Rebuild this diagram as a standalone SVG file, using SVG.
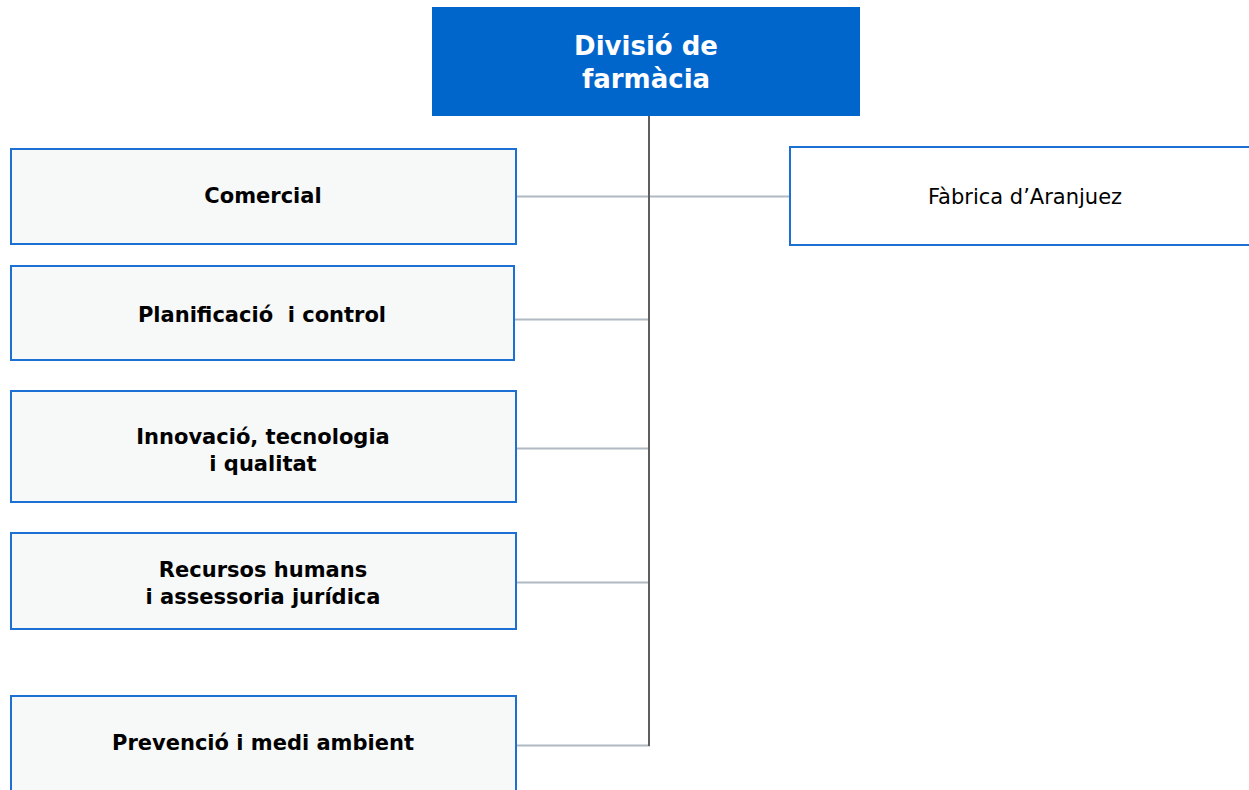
<svg xmlns="http://www.w3.org/2000/svg" width="1249" height="790" viewBox="0 0 1249 790">
<style>
.box{fill:#F7F8F8;stroke:#1C6FD3;stroke-width:2}
.wbox{fill:#FFFFFF;stroke:#1C6FD3;stroke-width:2}
.t{font-family:"DejaVu Sans",Verdana,sans-serif;font-size:21px;font-weight:bold;fill:#000;text-anchor:middle}
.tn{font-family:"DejaVu Sans",Verdana,sans-serif;font-size:21px;fill:#000;text-anchor:middle}
.title{font-family:"DejaVu Sans",Verdana,sans-serif;font-size:26px;font-weight:bold;fill:#FFFFFF;text-anchor:middle}
.h{stroke:#B0B9C2;stroke-width:2;fill:none}
.v{stroke:#5E5E5E;stroke-width:2;fill:none}
</style>
<rect width="1249" height="790" fill="#FFFFFF"/>
<g id="connectors">
<line class="h" x1="516" y1="196.5" x2="790" y2="196.5"/>
<line class="h" x1="514" y1="319.5" x2="650" y2="319.5"/>
<line class="h" x1="516" y1="448.5" x2="650" y2="448.5"/>
<line class="h" x1="516" y1="582.5" x2="650" y2="582.5"/>
<line class="h" x1="516" y1="745.5" x2="650" y2="745.5"/>
<line class="v" x1="649" y1="116" x2="649" y2="746"/>
</g>
<g id="divisio">
<rect x="432" y="7" width="428" height="109" fill="#0066CC"/>
<text class="title" x="646" y="55">Divisió de</text>
<text class="title" x="646" y="88">farmàcia</text>
</g>
<g id="comercial">
<rect class="box" x="11" y="149" width="505" height="95"/>
<text class="t" x="263" y="203">Comercial</text>
</g>
<g id="planificacio">
<rect class="box" x="11" y="266" width="503" height="94"/>
<text class="t" x="262" y="322" style="white-space:pre" xml:space="preserve">Planificació  i control</text>
</g>
<g id="innovacio">
<rect class="box" x="11" y="391" width="505" height="111"/>
<text class="t" x="263" y="444">Innovació, tecnologia</text>
<text class="t" x="263" y="471">i qualitat</text>
</g>
<g id="recursos">
<rect class="box" x="11" y="533" width="505" height="96"/>
<text class="t" x="263" y="577">Recursos humans</text>
<text class="t" x="263" y="604">i assessoria jurídica</text>
</g>
<g id="prevencio">
<rect class="box" x="11" y="696" width="505" height="110"/>
<text class="t" x="263" y="750">Prevenció i medi ambient</text>
</g>
<g id="fabrica">
<rect class="wbox" x="790" y="147" width="470" height="98"/>
<text class="tn" x="1025" y="204">Fàbrica d’Aranjuez</text>
</g>
</svg>
